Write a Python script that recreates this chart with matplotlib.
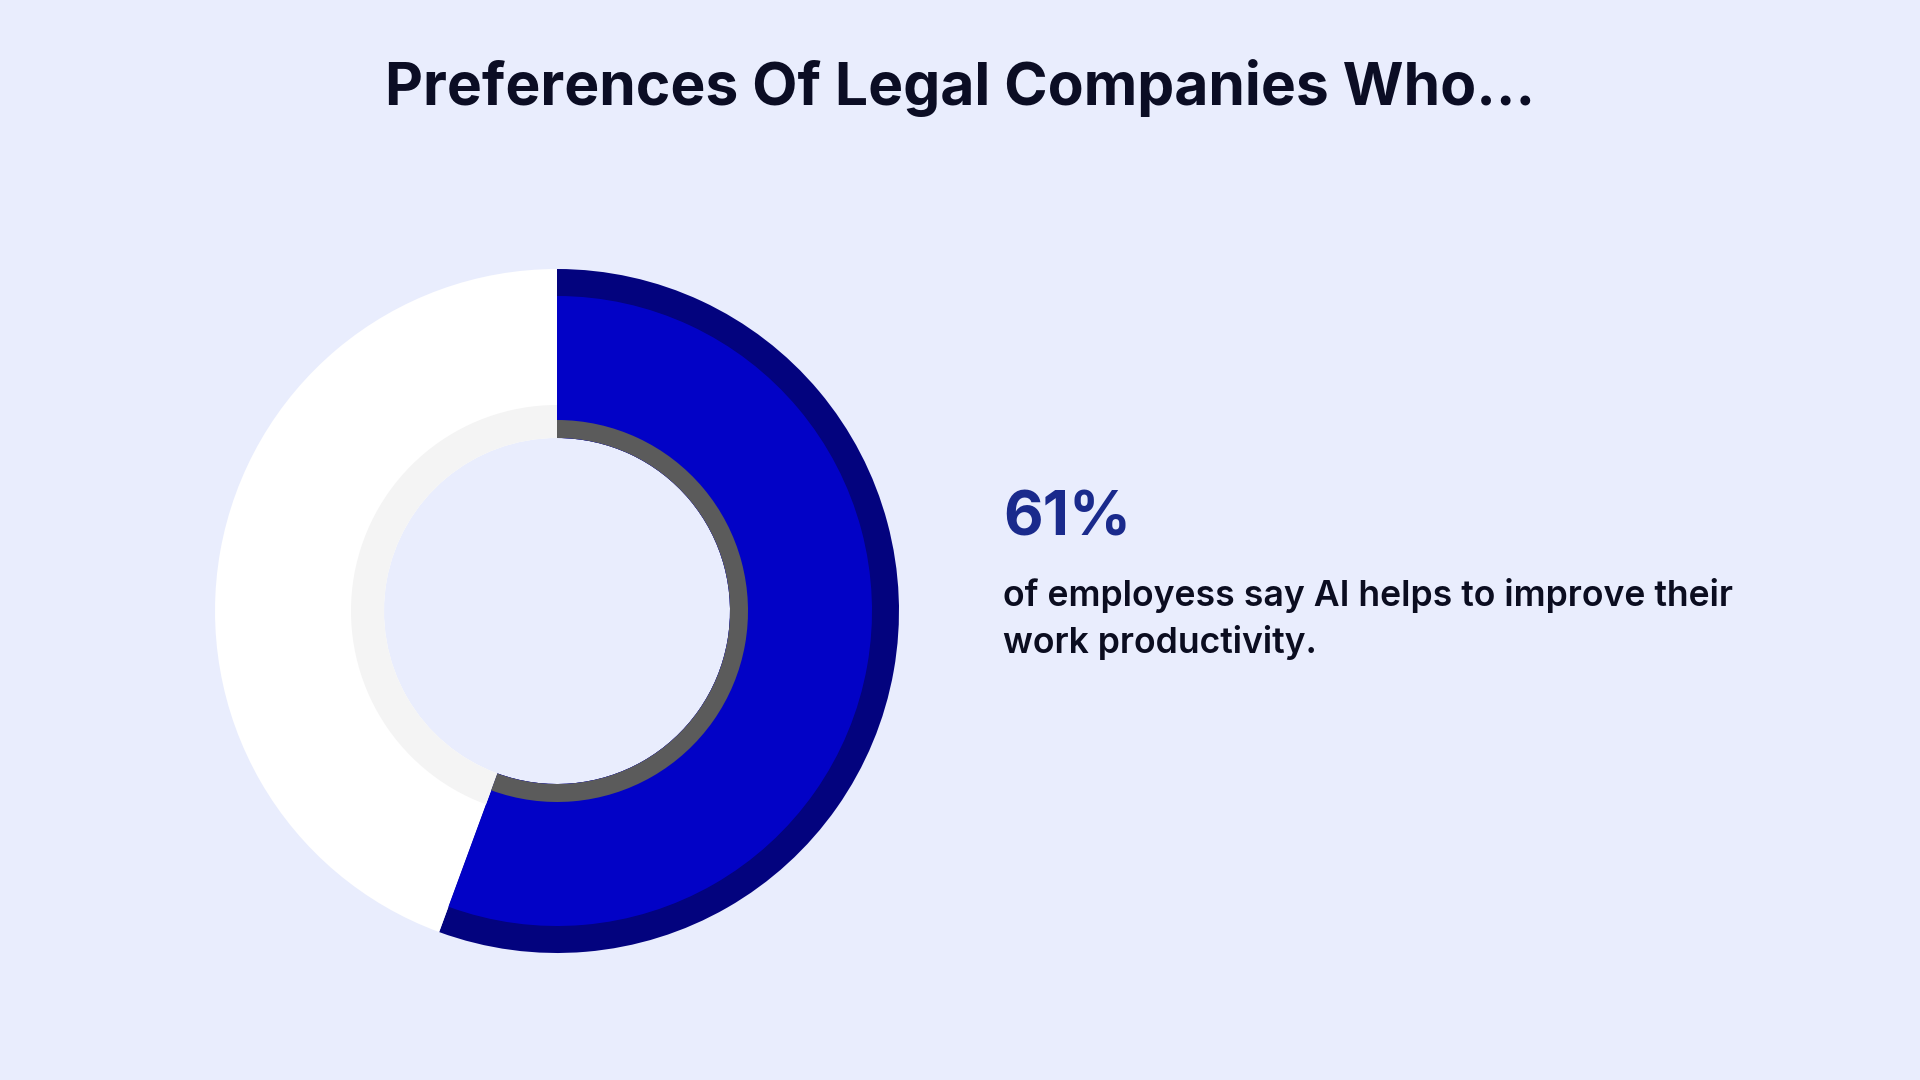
import matplotlib.pyplot as plt

# data
labels = ["Say AI helps", "Other"]
shares = [55.6, 44.4]
headline = "61%"
title = "Preferences Of Legal Companies Who..."
caption_lines = ["of employess say AI helps to improve their", "work productivity."]

bg = "#E9EDFD"
navy = "#03037E"
blue = "#0202C6"
dark_gray = "#5B5B5B"
light_gray = "#F4F4F4"

W, H = 1920, 1080
fig = plt.figure(figsize=(19.2, 10.8), dpi=100, facecolor=bg)
ax = fig.add_axes([0, 0, 1, 1])
ax.set_facecolor(bg)

cx, cy = 557, H - 611
hole = 173

# outer band: navy rim for the blue slice, white for the rest
ax.pie(shares, radius=342, center=(cx, cy), startangle=90, counterclock=False,
       colors=[navy, "white"], wedgeprops=dict(width=342 - hole, linewidth=0))
# bright blue body of the slice
ax.pie(shares, radius=315, center=(cx, cy), startangle=90, counterclock=False,
       colors=[blue, "none"], wedgeprops=dict(width=315 - hole, linewidth=0))
# inner rings
ax.pie(shares, radius=206, center=(cx, cy), startangle=90, counterclock=False,
       colors=["none", light_gray], wedgeprops=dict(width=206 - hole, linewidth=0))
ax.pie(shares, radius=191, center=(cx, cy), startangle=90, counterclock=False,
       colors=[dark_gray, "none"], wedgeprops=dict(width=191 - hole, linewidth=0))

ax.set_xlim(0, W)
ax.set_ylim(0, H)
ax.set_aspect("equal")
ax.axis("off")

ax.text(960, H - 88, title, ha="center", va="center", fontsize=42.3,
        fontweight="bold", family=["Inter", "DejaVu Sans"], color="#0B0D24")
ax.text(1003, H - 535, headline, ha="left", va="baseline", fontsize=44,
        fontweight="bold", family=["Inter", "DejaVu Sans"], color="#1A2A8C")
for i, line in enumerate(caption_lines):
    ax.text(1003, H - 606 - 47 * i, line, ha="left", va="baseline", fontsize=25.6,
            fontweight="semibold", family=["Inter", "DejaVu Sans"], color="#0B0D20")

fig.savefig("out.png", dpi=100, facecolor=bg)
